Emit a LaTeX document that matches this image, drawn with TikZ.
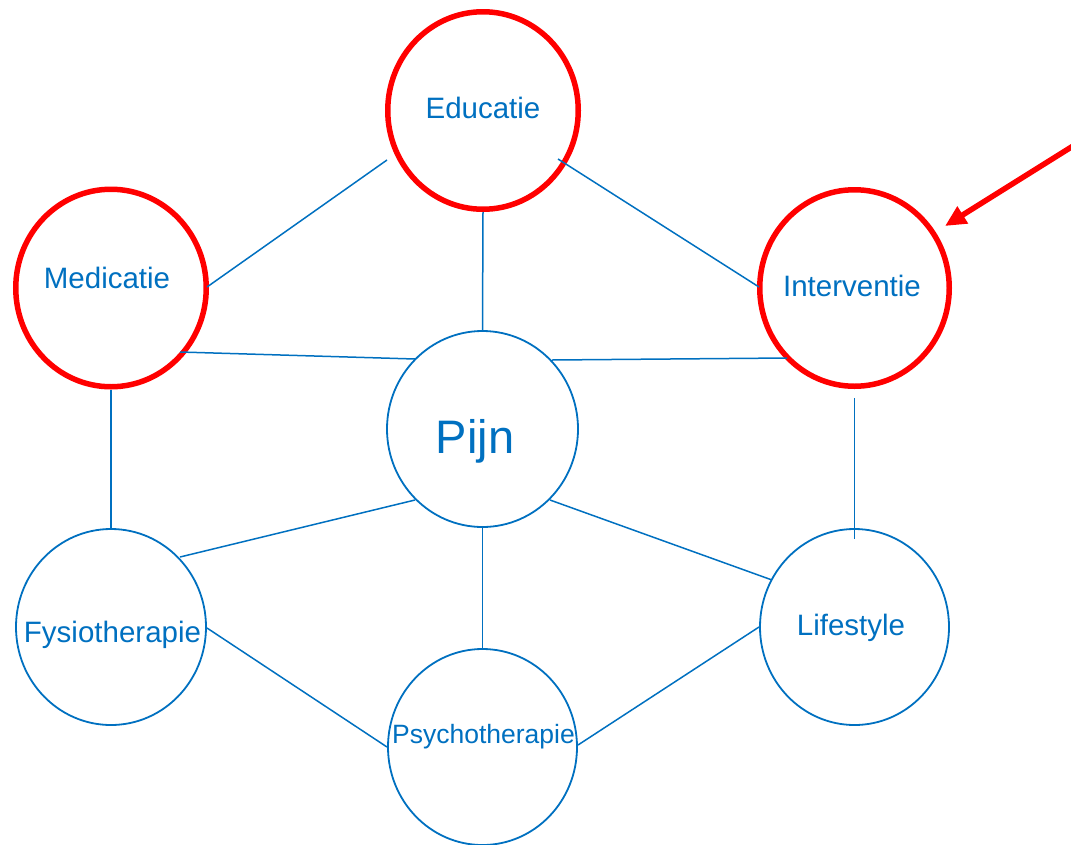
\documentclass[tikz,border=0pt]{standalone}
\usepackage{fontspec}
\setmainfont{Liberation Sans}
\usetikzlibrary{shapes.geometric,calc,arrows.meta}
\definecolor{ofblue}{HTML}{0070C0}
\definecolor{ofred}{HTML}{FF0000}
\tikzset{
  bluecirc/.style={ellipse, draw=ofblue, line width=1.8pt, inner sep=0pt, minimum width=189pt, minimum height=196pt},
  redcirc/.style={ellipse, draw=ofred, line width=5.5pt, inner sep=0pt, minimum width=190.5pt, minimum height=197.5pt},
  lbl/.style={text=ofblue, inner sep=0pt, anchor=base, font=\fontsize{29.5}{34}\selectfont},
  conn/.style={draw=ofblue, line width=1.5pt},
  pointer/.style={draw=ofred, line width=5.5pt, -{Triangle[length=21pt,width=19pt]}}
}
\begin{document}
\begin{tikzpicture}[x=1pt,y=-1pt]
\useasboundingbox (0,0) rectangle (1071,844);
% circles
\node[redcirc] (edu) at (483,110.5) {};
\node[redcirc] (med) at (111,288) {};
\node[redcirc, minimum width=189.5pt, minimum height=196.5pt] (int) at (854.5,288) {};
\node[bluecirc, minimum width=191pt] (pijn) at (482.5,429) {};
\node[bluecirc, minimum width=190pt] (fys) at (111,627) {};
\node[bluecirc] (psy) at (482.5,747) {};
\node[bluecirc] (life) at (854.5,627) {};
% texts
\node[lbl] (edu-t) at (483,118) {Educatie};
\node[lbl] (med-t) at (107,288) {Medicatie};
\node[lbl] (int-t) at (852,296) {Interventie};
\node[lbl, font=\fontsize{47}{52}\selectfont] (pijn-t) at (475,453) {Pijn};
\node[lbl] (fys-t) at (112.5,642) {Fysiotherapie};
\node[lbl, font=\fontsize{26.5}{30}\selectfont] (psy-t) at (483.5,743) {Psychotherapie};
\node[lbl] (life-t) at (851,635) {Lifestyle};
% connectors
\draw[conn] ($(med)+(96,-1)$) -- ($(edu)+(-96,49.5)$);
\draw[conn] ($(edu)+(75,48.5)$) -- ($(int)+(-95.5,-1)$);
\draw[conn] ($(edu)+(0,101.5)$) -- ($(pijn)+(0,-99)$);
\draw[conn] ($(med)+(69,64)$) -- ($(pijn)+(-67.5,-70)$);
\draw[conn] ($(pijn)+(69.5,-69)$) -- ($(int)+(-67.5,70)$);
\draw[conn] ($(int)+(0,110)$) -- ($(life)+(0,-88)$);
\draw[conn] ($(med)+(0,102)$) -- ($(fys)+(0,-99)$);
\draw[conn] ($(pijn)+(-67.5,71)$) -- ($(fys)+(69,-70)$);
\draw[conn] ($(pijn)+(67.5,71)$) -- ($(life)+(-82.5,-47)$);
\draw[conn] ($(pijn)+(0,99)$) -- ($(psy)+(0,-98)$);
\draw[conn] ($(fys)+(96,1)$) -- ($(psy)+(-95.5,0)$);
\draw[conn] ($(life)+(-95.5,0)$) -- ($(psy)+(95.5,-2)$);
% pointer arrow
\coordinate (arrstart) at (1073,146);
\draw[pointer] (arrstart) -- ($(int)+(90.5,-62)$);
\end{tikzpicture}
\end{document}
